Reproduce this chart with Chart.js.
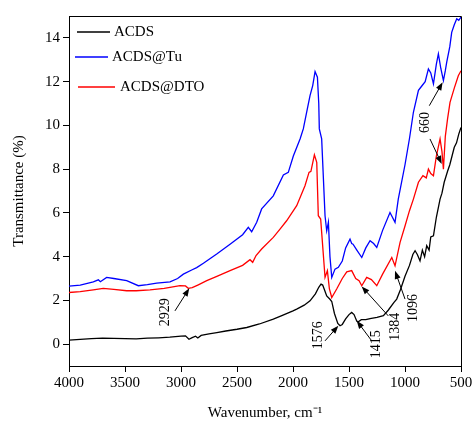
<!DOCTYPE html>
<html lang="en">
<head>
    <meta charset="UTF-8">
    <title>FTIR spectra ACDS</title>
    <script src="https://cdn.jsdelivr.net/npm/chart.js@4.4.1/dist/chart.umd.min.js"></script>
    <style>
        * { margin: 0; padding: 0; box-sizing: border-box; }
        body { background: #fff; }
        .chart-box { width: 476px; height: 426px; position: relative; }
    </style>
</head>
<body>
    <div class="chart-box">
        <canvas id="ftirChart"></canvas>
    </div>

    <script>
        // wavenumber (cm-1) and transmittance (%)
        const acdsWn = [4000,3900,3800,3700,3600,3500,3400,3300,3200,3100,3000,2960,2929,2900,2870,2850,2820,2750,2680,2600,2500,2413,2300,2176,2100,2000,1967,1900,1848,1800,1770,1750,1735,1720,1699,1670,1654,1630,1600,1580,1560,1530,1500,1476,1455,1430,1417,1390,1350,1312,1250,1193,1150,1100,1074,1040,1000,960,930,910,890,866,845,825,806,785,770,746,720,700,687,670,650,620,600,580,560,540,520,500];
        const acdsT = [0.18,0.22,0.25,0.27,0.26,0.25,0.24,0.27,0.29,0.32,0.37,0.38,0.22,0.30,0.36,0.28,0.40,0.47,0.53,0.60,0.68,0.76,0.92,1.14,1.30,1.52,1.60,1.78,1.98,2.30,2.60,2.74,2.70,2.50,2.20,2.05,1.95,1.40,0.95,0.84,0.90,1.15,1.35,1.45,1.35,1.05,1.02,1.12,1.12,1.17,1.22,1.30,1.55,1.90,2.06,2.50,3.10,3.60,4.10,4.27,4.10,3.81,4.30,4.00,4.50,4.30,4.90,4.95,5.80,6.30,6.63,6.90,7.40,7.90,8.20,8.60,9.00,9.20,9.60,9.90];

        const tuWn = [4000,3900,3783,3738,3720,3664,3600,3485,3381,3300,3217,3098,3030,2979,2900,2860,2800,2681,2562,2450,2399,2369,2324,2280,2176,2086,2042,1997,1937,1908,1872,1848,1824,1803,1782,1770,1765,1744,1714,1699,1684,1670,1654,1625,1595,1560,1530,1491,1476,1464,1430,1386,1350,1312,1280,1252,1200,1134,1089,1060,1000,960,925,880,850,820,791,770,746,720,702,680,657,640,627,600,583,560,538,520,500];
        const tuT = [2.65,2.70,2.85,2.94,2.85,3.05,3.00,2.90,2.67,2.72,2.79,2.85,3.00,3.20,3.40,3.50,3.70,4.12,4.57,5.00,5.34,5.14,5.57,6.18,6.78,7.73,7.85,8.60,9.38,9.84,10.75,11.36,11.82,12.46,12.20,11.00,9.84,9.38,5.87,5.18,5.57,4.00,3.05,3.43,3.51,3.80,4.40,4.80,4.60,4.57,4.30,3.96,4.40,4.73,4.60,4.42,5.20,6.02,5.57,6.63,8.20,9.40,10.60,11.60,11.80,12.00,12.58,12.40,11.90,12.80,13.27,12.60,12.05,12.50,12.90,13.60,14.25,14.60,14.87,14.80,14.95];

        const dtoWn = [4000,3900,3783,3694,3600,3485,3400,3277,3150,3009,2960,2935,2900,2850,2770,2680,2562,2450,2384,2360,2330,2280,2176,2116,2057,1967,1893,1857,1840,1809,1788,1774,1753,1714,1693,1675,1654,1610,1560,1520,1476,1440,1410,1386,1342,1300,1252,1200,1118,1089,1044,1000,960,925,880,840,810,791,770,746,720,687,670,657,640,620,598,560,524,500];
        const dtoT = [2.36,2.40,2.48,2.55,2.50,2.44,2.44,2.48,2.55,2.67,2.66,2.55,2.58,2.70,2.90,3.10,3.36,3.60,3.86,3.74,4.05,4.35,4.88,5.26,5.64,6.33,7.24,7.85,7.90,8.65,8.31,5.87,5.72,3.05,3.36,2.52,2.13,2.52,3.00,3.30,3.36,3.00,2.90,2.67,3.05,2.95,2.67,3.20,3.96,3.58,4.65,5.40,6.10,6.63,7.40,7.70,7.60,8.00,7.80,7.70,8.60,9.38,8.80,8.00,9.50,10.30,11.05,11.70,12.27,12.50];

        const seriesNames = ['ACDS', 'ACDS@Tu', 'ACDS@DTO'];
        const xTicks = [4000,3500,3000,2500,2000,1500,1000,500];
        const yTicks = [0,2,4,6,8,10,12,14];

        const serif = '"Liberation Serif", "Times New Roman", serif';

        function pts(wn, t) {
            return wn.map((w, i) => ({ x: w, y: t[i] }));
        }

        // peak labels: text position and arrow (tail -> tip) in data units
        const peakNotes = [
            { text: '2929', at: [3143, 1.46], arrows: [[3054, 1.52, 2926, 2.55]] },
            { text: '1576', at: [1774, 0.41], arrows: [[1714, 0.15, 1595, 0.84]] },
            { text: '1415', at: [1253, 0.0],  arrows: [[1297, 0.15, 1431, 1.07]] },
            { text: '1384', at: [1089, 0.80], arrows: [[1149, 1.29, 1387, 2.64]] },
            { text: '1096', at: [926, 1.65],  arrows: [[1000, 2.06, 1089, 3.35]] },
            { text: '660',  at: [821, 10.13], arrows: [[783, 10.9, 664, 11.97], [777, 9.38, 672, 8.24]] }
        ];

        const decorPlugin = {
            id: 'decor',
            afterDatasetsDraw(chart) {
                const ctx = chart.ctx;
                const a = chart.chartArea;
                const xs = chart.scales.x, ys = chart.scales.y;
                ctx.save();
                // frame top + right
                ctx.strokeStyle = '#000';
                ctx.lineWidth = 1;
                ctx.beginPath();
                ctx.moveTo(a.left, a.top + 0.5);
                ctx.lineTo(a.right + 0.5, a.top + 0.5);
                ctx.lineTo(a.right + 0.5, a.bottom);
                ctx.stroke();

                // arrows + rotated labels
                ctx.fillStyle = '#000';
                ctx.font = '14px ' + serif;
                peakNotes.forEach(n => {
                    n.arrows.forEach(ar => {
                        const x1 = xs.getPixelForValue(ar[0]), y1 = ys.getPixelForValue(ar[1]);
                        const x2 = xs.getPixelForValue(ar[2]), y2 = ys.getPixelForValue(ar[3]);
                        const ang = Math.atan2(y2 - y1, x2 - x1);
                        ctx.beginPath();
                        ctx.moveTo(x1, y1);
                        ctx.lineTo(x2 - 5 * Math.cos(ang), y2 - 5 * Math.sin(ang));
                        ctx.stroke();
                        ctx.beginPath();
                        ctx.moveTo(x2, y2);
                        ctx.lineTo(x2 - 8 * Math.cos(ang) + 3 * Math.sin(ang), y2 - 8 * Math.sin(ang) - 3 * Math.cos(ang));
                        ctx.lineTo(x2 - 8 * Math.cos(ang) - 3 * Math.sin(ang), y2 - 8 * Math.sin(ang) + 3 * Math.cos(ang));
                        ctx.closePath();
                        ctx.fill();
                    });
                    ctx.save();
                    ctx.translate(xs.getPixelForValue(n.at[0]), ys.getPixelForValue(n.at[1]));
                    ctx.rotate(-Math.PI / 2);
                    ctx.textAlign = 'center';
                    ctx.textBaseline = 'middle';
                    ctx.fillText(n.text, 0, 0);
                    ctx.restore();
                });

                // legend
                const leg = [[a.left + 8, a.left + 41, a.top + 16, a.left + 45],
                             [a.left + 6, a.left + 39, a.top + 41, a.left + 43],
                             [a.left + 9, a.left + 46, a.top + 71, a.left + 51]];
                ctx.font = '15px ' + serif;
                ctx.textAlign = 'left';
                ctx.textBaseline = 'middle';
                chart.data.datasets.forEach((ds, i) => {
                    const l = leg[i];
                    ctx.strokeStyle = ds.borderColor;
                    ctx.lineWidth = 1.3;
                    ctx.beginPath();
                    ctx.moveTo(l[0], l[2]);
                    ctx.lineTo(l[1], l[2]);
                    ctx.stroke();
                    ctx.fillStyle = '#000';
                    ctx.fillText(seriesNames[i], l[3], l[2]);
                });
                ctx.restore();
            }
        };

        const ftirChart = new Chart(document.getElementById('ftirChart'), {
            type: 'line',
            data: {
                datasets: [
                    { label: seriesNames[0], data: pts(acdsWn, acdsT), borderColor: '#000000' },
                    { label: seriesNames[1], data: pts(tuWn, tuT), borderColor: '#0000ff' },
                    { label: seriesNames[2], data: pts(dtoWn, dtoT), borderColor: '#ff0000' }
                ]
            },
            options: {
                responsive: true,
                maintainAspectRatio: false,
                animation: false,
                elements: {
                    line: { borderWidth: 1.3, tension: 0 },
                    point: { radius: 0 }
                },
                layout: { padding: { left: 0, right: 15, top: 16, bottom: 0 } },
                plugins: {
                    legend: { display: false },
                    tooltip: { enabled: false }
                },
                scales: {
                    x: {
                        type: 'linear',
                        reverse: true,
                        min: 500,
                        max: 4000,
                        afterFit: s => { s.height = 60; },
                        afterBuildTicks: s => { s.ticks = xTicks.map(v => ({ value: v })); },
                        grid: { drawOnChartArea: false, drawTicks: true, tickLength: 6, color: '#000' },
                        border: { display: true, color: '#000', width: 1 },
                        ticks: {
                            color: '#000',
                            font: { family: serif, size: 15 },
                            padding: 2,
                            maxRotation: 0,
                            callback: v => String(v)
                        },
                        title: {
                            display: true,
                            text: 'Wavenumber, cm\u207B\u00B9',
                            color: '#000',
                            font: { family: serif, size: 15 },
                            padding: { top: 8 }
                        }
                    },
                    y: {
                        min: -1,
                        max: 15,
                        afterFit: s => { s.width = 69; },
                        afterBuildTicks: s => { s.ticks = yTicks.map(v => ({ value: v })); },
                        grid: { drawOnChartArea: false, drawTicks: true, tickLength: 6, color: '#000' },
                        border: { display: true, color: '#000', width: 1 },
                        ticks: {
                            color: '#000',
                            font: { family: serif, size: 15 },
                            padding: 3,
                            callback: v => String(v)
                        },
                        title: {
                            display: true,
                            text: 'Transmittance (%)',
                            color: '#000',
                            font: { family: serif, size: 15 },
                            padding: { top: 10, bottom: 0 }
                        }
                    }
                }
            },
            plugins: [decorPlugin]
        });
    </script>
</body>
</html>
